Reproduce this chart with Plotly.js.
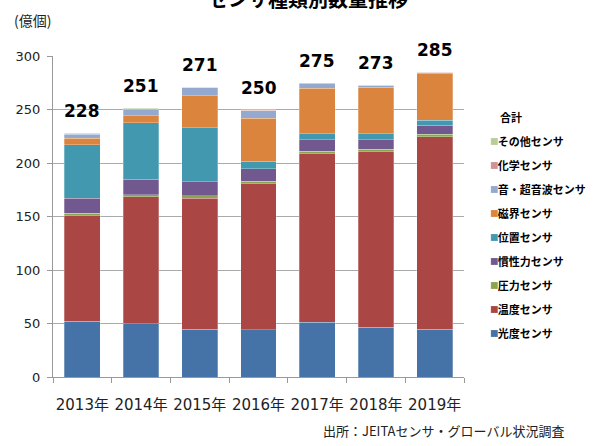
<!DOCTYPE html>
<html>
<head>
<meta charset="utf-8">
<script src="https://cdn.plot.ly/plotly-3.0.1.min.js"></script>
<style>
html,body{margin:0;padding:0;background:#fff;}
#chart{width:598px;height:446px;}
</style>
</head>
<body>
<div id="chart"></div>
<script>
const years = ['2013年','2014年','2015年','2016年','2017年','2018年','2019年'];
const totals = [228, 251, 271, 250, 275, 273, 285];

const seriesNames = ['光度センサ','温度センサ','圧力センサ','慣性力センサ','位置センサ','磁界センサ','音・超音波センサ','化学センサ','その他センサ'];
const kodo      = [52, 50, 44.5, 44, 51, 46.5, 44.5];
const ondo      = [99, 118.5, 122.5, 137, 158, 164.5, 180];
const atsuryoku = [2, 2, 2.5, 2, 2, 2, 2.5];
const kanseiryoku = [14, 14.5, 13, 11.5, 10.5, 8.5, 8.5];
const ichi      = [50, 52.5, 50.5, 7, 6, 6, 4.5];
const jikai     = [6, 6.5, 30, 40.5, 42.5, 43.5, 43.5];
const onpa      = [4, 6, 7.5, 7, 4.5, 1, 1];
const kagaku    = [0.5, 0.5, 0.3, 0.5, 0.3, 0.7, 0.3];
const sonota    = [0.5, 0.5, 0.2, 0.5, 0.2, 0.3, 0.2];

const seriesValues = [kodo, ondo, atsuryoku, kanseiryoku, ichi, jikai, onpa, kagaku, sonota];
const colors = ['#4572A7','#AA4643','#89A54E','#71588F','#4198AF','#DB843D','#93A9CF','#D19392','#B9CD96'];

const FONT = 'DejaVu Sans, "Noto Sans CJK JP", sans-serif';
const JFONT = '"Noto Sans CJK JP", "DejaVu Sans", sans-serif';

const traces = seriesNames.map((name, i) => ({
  type: 'bar',
  name: name,
  x: years,
  y: seriesValues[i],
  legendgroup: 'g' + i,
  legendrank: seriesNames.length - i,
  marker: {color: colors[i], line: {color: 'rgba(255,255,255,0.45)', width: 0.6}},
  hoverinfo: 'skip'
}));

const annotations = years.map((yr, i) => ({
  x: yr, y: totals[i], xref: 'x', yref: 'y',
  text: String(totals[i]), showarrow: false,
  yanchor: 'middle', yshift: 22,
  font: {family: FONT, size: 17, color: '#000', weight: 'bold'}
}));

annotations.push({
  xref: 'paper', yref: 'paper', x: 0.62, y: 1.178, xanchor: 'center', yanchor: 'middle',
  text: 'センサ種類別数量推移', showarrow: false,
  font: {family: JFONT, size: 20, color: '#000', weight: 'bold'}
});
annotations.push({
  xref: 'paper', yref: 'paper', x: -0.1, y: 1.111, xanchor: 'left', yanchor: 'middle',
  text: '(億個)', showarrow: false,
  font: {family: JFONT, size: 14, color: '#222'}
});
annotations.push({
  xref: 'paper', yref: 'paper', x: 1.083, y: 0.81, xanchor: 'left', yanchor: 'middle',
  text: '合計', showarrow: false,
  font: {family: JFONT, size: 11, color: '#000', weight: 'bold'}
});
annotations.push({
  xref: 'paper', yref: 'paper', x: 1.248, y: -0.168, xanchor: 'right', yanchor: 'middle',
  text: '出所：JEITAセンサ・グローバル状況調査', showarrow: false,
  font: {family: JFONT, size: 13, color: '#222'}
});

const layout = {
  width: 598, height: 446,
  margin: {l: 53, r: 134, t: 56, b: 69, autoexpand: false},
  paper_bgcolor: '#fff', plot_bgcolor: '#fff',
  barmode: 'stack', bargap: 0.39,
  showlegend: true,
  legend: {
    traceorder: 'grouped', tracegroupgap: 5,
    x: 0.985, xanchor: 'left', y: 0.779, yanchor: 'top',
    font: {family: JFONT, size: 11, color: '#000', weight: 'bold'},
    itemwidth: 30, bgcolor: 'rgba(0,0,0,0)'
  },
  xaxis: {
    type: 'category', tickson: 'boundaries', tickangle: 0,
    ticks: 'outside', ticklen: 5, tickcolor: '#999', tickwidth: 1,
    showline: true, linecolor: '#999', linewidth: 1,
    tickfont: {family: FONT, size: 15, color: '#222'},
    ticklabelstandoff: 14,
    showgrid: false, zeroline: false, fixedrange: true
  },
  yaxis: {
    range: [0, 300], dtick: 50, tick0: 0,
    ticks: 'outside', ticklen: 5, tickcolor: '#999', tickwidth: 1,
    showline: true, linecolor: '#999', linewidth: 1,
    showgrid: true, gridcolor: '#aaa', gridwidth: 1,
    zeroline: false,
    tickfont: {family: FONT, size: 13, color: '#222'},
    ticklabelstandoff: 4, fixedrange: true
  },
  annotations: annotations
};

Plotly.newPlot('chart', traces, layout, {staticPlot: true, displayModeBar: false}).then(() => {
  document.querySelectorAll('.legendpoints path').forEach(p => {
    p.setAttribute('transform', 'translate(36.5,0) scale(0.58)');
  });
});
</script>
</body>
</html>
